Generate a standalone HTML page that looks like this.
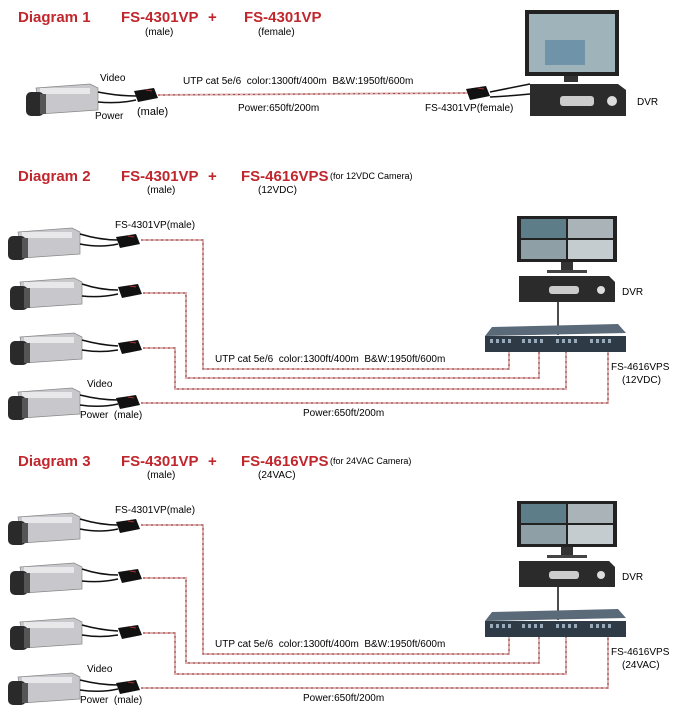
<!DOCTYPE html>
<html><head><meta charset="utf-8"><style>
html,body{margin:0;padding:0;background:#fff;}
svg{display:block;font-family:"Liberation Sans",sans-serif;}
.t{fill:#c0272d;font-size:15px;font-weight:bold;}
.s{fill:#000;font-size:10px;}
.w{fill:none;stroke:#dcb0b0;stroke-width:2;}
.w2{fill:none;stroke:#a04848;stroke-width:1;stroke-dasharray:2 3;}
</style></head><body>
<svg width="676" height="716" viewBox="0 0 676 716">
<defs>
<g id="cam">
  <path d="M10 4 L64 0 L72 4 L72 26 L14 30 Z" fill="#c8c8cc" stroke="#888" stroke-width="0.7"/>
  <rect x="14" y="4" width="50" height="6" fill="#e8e8ea"/>
  <rect x="0" y="8" width="18" height="24" rx="5" fill="#2a2a2a"/>
  <rect x="14" y="10" width="6" height="20" fill="#555"/>
</g>
<g id="bal">
  <path d="M0 3 L20 0 L24 10 L4 14 Z" fill="#111"/>
  <path d="M12 2 L18 3" stroke="#a33" stroke-width="1"/>
</g>
<g id="mon4">
  <rect x="0" y="0" width="100" height="46" fill="#222"/>
  <rect x="4" y="3" width="45" height="19" fill="#5d7e88"/>
  <rect x="51" y="3" width="45" height="19" fill="#aab4b8"/>
  <rect x="4" y="24" width="45" height="19" fill="#8ea0a6"/>
  <rect x="51" y="24" width="45" height="19" fill="#c4cccf"/>
  <rect x="44" y="46" width="12" height="8" fill="#333"/>
  <rect x="30" y="54" width="40" height="3" fill="#444"/>
  <path d="M2 60 L92 60 L98 66 L98 86 L2 86 Z" fill="#2b2b2b"/>
  <rect x="32" y="70" width="30" height="8" rx="3" fill="#ccc"/>
  <circle cx="84" cy="74" r="4" fill="#ddd"/>
</g>
<g id="d2">
  <use href="#cam" x="8" y="228"/>
  <use href="#cam" x="10" y="278"/>
  <use href="#cam" x="10" y="333"/>
  <use href="#cam" x="8" y="388"/>
  <path d="M80 234 Q100 240 118 240 M80 244 Q100 248 118 244" stroke="#111" fill="none" stroke-width="1.5"/>
  <path d="M82 284 Q100 290 118 290 M82 296 Q100 298 118 294" stroke="#111" fill="none" stroke-width="1.5"/>
  <path d="M82 340 Q100 345 118 346 M82 350 Q100 353 118 350" stroke="#111" fill="none" stroke-width="1.5"/>
  <path d="M80 395 Q100 400 118 400 M80 405 Q100 408 118 404" stroke="#111" fill="none" stroke-width="1.5"/>
  <use href="#bal" x="116" y="234"/>
  <use href="#bal" x="118" y="284"/>
  <use href="#bal" x="118" y="340"/>
  <use href="#bal" x="116" y="395"/>
  <g>
   <polyline class="w" points="141,240 203,240 203,369 509,369 509,352"/>
   <polyline class="w" points="143,293 186,293 186,378 539,378 539,352"/>
   <polyline class="w" points="143,348 175,348 175,389 566,389 566,352"/>
   <polyline class="w" points="141,403 608,403 608,352"/>
   <polyline class="w2" points="141,240 203,240 203,369 509,369 509,352"/>
   <polyline class="w2" points="143,293 186,293 186,378 539,378 539,352"/>
   <polyline class="w2" points="143,348 175,348 175,389 566,389 566,352"/>
   <polyline class="w2" points="141,403 608,403 608,352"/>
  </g>
  <use href="#mon4" x="517" y="216"/>
  <line x1="558" y1="302" x2="558" y2="335" stroke="#111" stroke-width="1.5"/>
  <path d="M492 327 L618 324 L626 333 L485 336 Z" fill="#5a6a78"/>
  <rect x="485" y="336" width="141" height="16" fill="#2e3a46"/>
  <g fill="#9ab">
   <rect x="490" y="339" width="3" height="4"/><rect x="496" y="339" width="3" height="4"/><rect x="502" y="339" width="3" height="4"/><rect x="508" y="339" width="3" height="4"/>
   <rect x="522" y="339" width="3" height="4"/><rect x="528" y="339" width="3" height="4"/><rect x="534" y="339" width="3" height="4"/><rect x="540" y="339" width="3" height="4"/>
   <rect x="556" y="339" width="3" height="4"/><rect x="562" y="339" width="3" height="4"/><rect x="568" y="339" width="3" height="4"/><rect x="574" y="339" width="3" height="4"/>
   <rect x="590" y="339" width="3" height="4"/><rect x="596" y="339" width="3" height="4"/><rect x="602" y="339" width="3" height="4"/><rect x="608" y="339" width="3" height="4"/>
  </g>
  <text class="s" x="115" y="228">FS-4301VP(male)</text>
  <text class="s" x="215" y="362">UTP cat 5e/6&#160;&#160;color:1300ft/400m&#160;&#160;B&amp;W:1950ft/600m</text>
  <text class="s" x="87" y="387">Video</text>
  <text class="s" x="80" y="418">Power&#160;&#160;(male)</text>
  <text class="s" x="303" y="416">Power:650ft/200m</text>
  <text class="s" x="622" y="295">DVR</text>
  <text class="s" x="611" y="370">FS-4616VPS</text>
</g>
</defs>

<!-- Diagram 1 -->
<text class="t" x="18" y="22">Diagram 1</text>
<text class="t" x="121" y="22">FS-4301VP</text>
<text class="t" x="208" y="22">+</text>
<text class="t" x="244" y="22">FS-4301VP</text>
<text class="s" x="145" y="35">(male)</text>
<text class="s" x="258" y="35">(female)</text>
<use href="#cam" x="26" y="84"/>
<path d="M98 92 Q118 96 136 96 M98 102 Q118 104 136 100" stroke="#111" fill="none" stroke-width="1.5"/>
<use href="#bal" x="134" y="88"/>
<polyline class="w" points="158,95 468,93"/>
<polyline class="w2" points="158,95 468,93"/>
<use href="#bal" x="466" y="86"/>
<path d="M490 92 Q510 88 530 84 M490 97 Q510 96 530 94" stroke="#111" fill="none" stroke-width="1.5"/>
<rect x="525" y="10" width="94" height="66" fill="#222"/>
<rect x="529" y="14" width="86" height="58" fill="#9fb3ba"/>
<rect x="545" y="40" width="40" height="25" fill="#6f93a8"/>
<rect x="564" y="76" width="14" height="6" fill="#333"/>
<path d="M530 84 L618 84 L626 90 L626 116 L530 116 Z" fill="#2b2b2b"/>
<rect x="560" y="96" width="34" height="10" rx="3" fill="#ccc"/>
<circle cx="612" cy="101" r="5" fill="#ddd"/>
<text class="s" x="100" y="81">Video</text>
<text class="s" x="95" y="119">Power</text>
<text class="s" x="137" y="115" style="font-size:11px">(male)</text>
<text class="s" x="183" y="84">UTP cat 5e/6&#160;&#160;color:1300ft/400m&#160;&#160;B&amp;W:1950ft/600m</text>
<text class="s" x="238" y="111">Power:650ft/200m</text>
<text class="s" x="425" y="111">FS-4301VP(female)</text>
<text class="s" x="637" y="105">DVR</text>

<!-- Diagram 2 -->
<text class="t" x="18" y="181">Diagram 2</text>
<text class="t" x="121" y="181">FS-4301VP</text>
<text class="t" x="208" y="181">+</text>
<text class="t" x="241" y="181">FS-4616VPS</text>
<text class="s" x="330" y="179" style="font-size:9px">(for 12VDC Camera)</text>
<text class="s" x="147" y="193">(male)</text>
<text class="s" x="258" y="193">(12VDC)</text>
<use href="#d2"/>
<text class="s" x="622" y="383">(12VDC)</text>

<!-- Diagram 3 -->
<text class="t" x="18" y="466">Diagram 3</text>
<text class="t" x="121" y="466">FS-4301VP</text>
<text class="t" x="208" y="466">+</text>
<text class="t" x="241" y="466">FS-4616VPS</text>
<text class="s" x="330" y="464" style="font-size:9px">(for 24VAC Camera)</text>
<text class="s" x="147" y="478">(male)</text>
<text class="s" x="258" y="478">(24VAC)</text>
<use href="#d2" y="285"/>
<text class="s" x="622" y="668">(24VAC)</text>
</svg>
</body></html>
